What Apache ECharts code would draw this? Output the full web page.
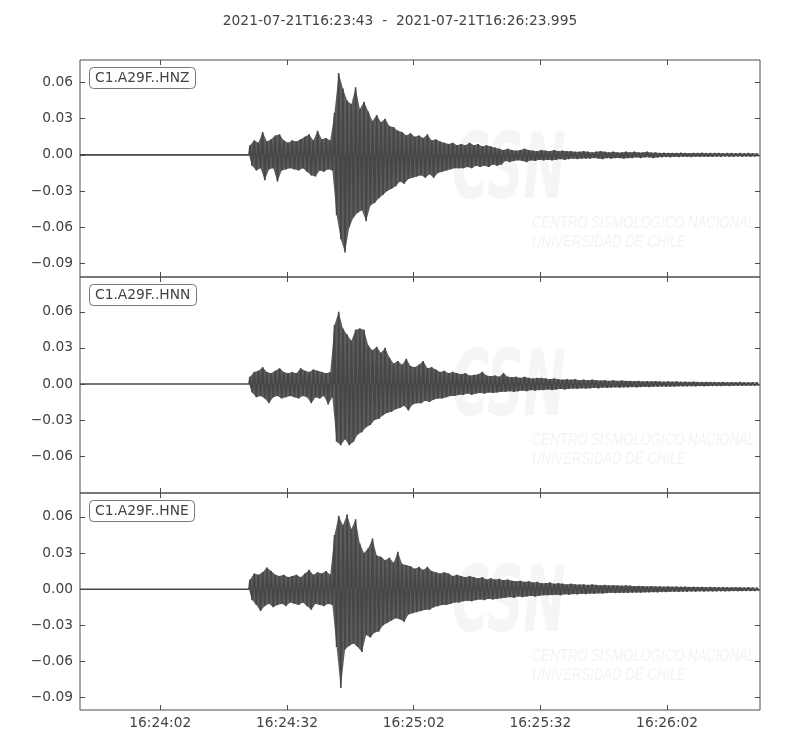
<!DOCTYPE html>
<html>
<head>
<meta charset="utf-8">
<title>C1.A29F</title>
<script src="https://cdn.jsdelivr.net/npm/echarts@6/dist/echarts.min.js"></script>
<style>
    html, body { margin: 0; padding: 0; background: #fff; }
    #main { width: 800px; height: 750px; }
</style>
</head>
<body>
<div id="main"></div>
<script>
    // trace window and envelope bins (seconds after 16:23:43)
    var titleText = '2021-07-21T16:23:43  -  2021-07-21T16:26:23.995';
    var duration = 160.995;
    var onset = 40;        // first bin with signal, flat before that
    var binWidth = 1;

    var channels = ['C1.A29F..HNZ', 'C1.A29F..HNN', 'C1.A29F..HNE'];

    var xTickSeconds = [19, 49, 79, 109, 139];
    var xTickLabels = ['16:24:02', '16:24:32', '16:25:02', '16:25:32', '16:26:02'];

    var yTicksZ = [-0.09, -0.06, -0.03, 0, 0.03, 0.06];
    var yTicksN = [-0.06, -0.03, 0, 0.03, 0.06];
    var yTicksE = [-0.09, -0.06, -0.03, 0, 0.03, 0.06];

    // per second upper / lower peaks, from t = 40 s
    var hnzMax = [
        0.008, 0.012, 0.010, 0.019, 0.011, 0.013, 0.016, 0.017, 0.012, 0.010,
        0.012, 0.011, 0.013, 0.015, 0.017, 0.012, 0.020, 0.013, 0.014, 0.012,
        0.035, 0.068, 0.055, 0.045, 0.042, 0.056, 0.038, 0.044, 0.036, 0.028,
        0.033, 0.027, 0.030, 0.024, 0.023, 0.020, 0.019, 0.016, 0.018, 0.015,
        0.016, 0.014, 0.017, 0.012, 0.013, 0.011, 0.010, 0.009, 0.010, 0.008,
        0.009, 0.008, 0.010, 0.008, 0.009, 0.007, 0.008, 0.007, 0.006, 0.005,
        0.004, 0.005, 0.004, 0.0035, 0.004, 0.005, 0.004, 0.0035, 0.003, 0.004,
        0.0035, 0.003, 0.004, 0.003, 0.0035, 0.003, 0.003, 0.0025, 0.0025, 0.003,
        0.0025, 0.002, 0.0025, 0.003, 0.0025, 0.002, 0.0025, 0.002, 0.002, 0.0025,
        0.002, 0.0025, 0.002, 0.002, 0.0025, 0.0018, 0.002, 0.0015, 0.0016, 0.0015,
        0.0015, 0.0014, 0.0016, 0.0015, 0.0013, 0.0015, 0.0014, 0.0016, 0.0013, 0.0014,
        0.0013, 0.0015, 0.0012, 0.0014, 0.0013, 0.0012, 0.0014, 0.0012, 0.0013, 0.0012, 0.0012
    ];
    var hnzMin = [
        -0.009, -0.013, -0.011, -0.021, -0.012, -0.011, -0.022, -0.013, -0.012, -0.011,
        -0.012, -0.013, -0.011, -0.014, -0.017, -0.018, -0.013, -0.014, -0.012, -0.013,
        -0.050, -0.070, -0.081, -0.060, -0.052, -0.048, -0.046, -0.055, -0.042, -0.040,
        -0.036, -0.033, -0.030, -0.028, -0.026, -0.022, -0.024, -0.020, -0.019, -0.018,
        -0.017, -0.019, -0.016, -0.019, -0.015, -0.014, -0.013, -0.012, -0.011, -0.011,
        -0.011, -0.010, -0.011, -0.009, -0.010, -0.009, -0.010, -0.008, -0.009, -0.008,
        -0.005, -0.006, -0.005, -0.0045, -0.005, -0.006, -0.0045, -0.005, -0.004, -0.0045,
        -0.004, -0.0045, -0.004, -0.0035, -0.004, -0.0035, -0.003, -0.0035, -0.003, -0.003,
        -0.003, -0.0025, -0.003, -0.0035, -0.0025, -0.003, -0.0025, -0.0025, -0.003, -0.0025,
        -0.0025, -0.002, -0.0025, -0.002, -0.002, -0.0025, -0.002, -0.0018, -0.0016, -0.0018,
        -0.0015, -0.0016, -0.0014, -0.0015, -0.0016, -0.0014, -0.0015, -0.0013, -0.0015, -0.0014,
        -0.0013, -0.0014, -0.0012, -0.0013, -0.0014, -0.0012, -0.0013, -0.0012, -0.0013, -0.0012, -0.0012
    ];

    var hnnMax = [
        0.006, 0.010, 0.011, 0.014, 0.010, 0.009, 0.011, 0.013, 0.010, 0.009,
        0.010, 0.009, 0.013, 0.011, 0.010, 0.012, 0.011, 0.010, 0.009, 0.010,
        0.049, 0.060, 0.046, 0.041, 0.036, 0.045, 0.046, 0.045, 0.032, 0.028,
        0.031, 0.026, 0.030, 0.022, 0.017, 0.019, 0.016, 0.021, 0.015, 0.014,
        0.016, 0.019, 0.013, 0.014, 0.012, 0.010, 0.011, 0.009, 0.010, 0.009,
        0.008, 0.009, 0.007, 0.0075, 0.008, 0.010, 0.007, 0.0065, 0.007, 0.006,
        0.009, 0.006, 0.0055, 0.006, 0.005, 0.006, 0.005, 0.0045, 0.005, 0.005,
        0.0045, 0.004, 0.0045, 0.004, 0.0035, 0.004, 0.0035, 0.004, 0.003, 0.0035,
        0.003, 0.0035, 0.003, 0.0028, 0.003, 0.0025, 0.003, 0.0025, 0.0028, 0.0025,
        0.0025, 0.0022, 0.0025, 0.002, 0.0022, 0.002, 0.0022, 0.002, 0.0018, 0.002,
        0.0018, 0.002, 0.0017, 0.0018, 0.0016, 0.0018, 0.0016, 0.0015, 0.0016, 0.0015,
        0.0015, 0.0014, 0.0015, 0.0013, 0.0014, 0.0013, 0.0014, 0.0012, 0.0013, 0.0012, 0.0012
    ];
    var hnnMin = [
        -0.007, -0.011, -0.010, -0.012, -0.016, -0.011, -0.010, -0.012, -0.011, -0.010,
        -0.011, -0.012, -0.010, -0.011, -0.016, -0.011, -0.012, -0.010, -0.017, -0.011,
        -0.048, -0.051, -0.046, -0.051, -0.048, -0.042, -0.040, -0.036, -0.034, -0.030,
        -0.029, -0.026, -0.024, -0.023, -0.021, -0.020, -0.018, -0.022, -0.017, -0.016,
        -0.016, -0.014, -0.015, -0.013, -0.012, -0.012, -0.011, -0.010, -0.010, -0.009,
        -0.009, -0.008, -0.009, -0.008, -0.0075, -0.008, -0.007, -0.0075, -0.007, -0.0065,
        -0.0065, -0.006, -0.0065, -0.006, -0.0055, -0.006, -0.005, -0.0055, -0.005, -0.005,
        -0.0045, -0.005, -0.0045, -0.004, -0.0045, -0.004, -0.0038, -0.004, -0.0035, -0.0038,
        -0.0035, -0.0032, -0.0035, -0.003, -0.0032, -0.003, -0.0028, -0.003, -0.0027, -0.0028,
        -0.0025, -0.0027, -0.0025, -0.0023, -0.0025, -0.0022, -0.0022, -0.002, -0.0022, -0.002,
        -0.002, -0.0018, -0.0019, -0.0018, -0.0017, -0.0018, -0.0016, -0.0017, -0.0016, -0.0015,
        -0.0015, -0.0016, -0.0014, -0.0015, -0.0014, -0.0013, -0.0014, -0.0013, -0.0013, -0.0012, -0.0012
    ];

    var hneMax = [
        0.008, 0.013, 0.012, 0.014, 0.018, 0.015, 0.012, 0.011, 0.012, 0.010,
        0.011, 0.012, 0.010, 0.013, 0.016, 0.012, 0.014, 0.013, 0.015, 0.012,
        0.045, 0.061, 0.053, 0.062, 0.050, 0.058, 0.038, 0.030, 0.034, 0.042,
        0.028, 0.027, 0.024, 0.026, 0.022, 0.031, 0.021, 0.020, 0.019, 0.017,
        0.0185, 0.016, 0.0185, 0.015, 0.014, 0.013, 0.014, 0.013, 0.011, 0.012,
        0.011, 0.010, 0.011, 0.010, 0.009, 0.010, 0.008, 0.009, 0.008, 0.0085,
        0.0075, 0.008, 0.007, 0.0065, 0.007, 0.006, 0.0065, 0.0055, 0.006, 0.005,
        0.005, 0.0055, 0.0045, 0.005, 0.0045, 0.004, 0.0045, 0.004, 0.0038, 0.004,
        0.0035, 0.004, 0.0035, 0.0032, 0.0035, 0.003, 0.0032, 0.003, 0.0028, 0.003,
        0.0028, 0.0025, 0.0027, 0.0025, 0.0023, 0.0025, 0.0022, 0.0023, 0.002, 0.0022,
        0.002, 0.0021, 0.0019, 0.002, 0.0018, 0.0019, 0.0017, 0.0018, 0.0016, 0.0017,
        0.0016, 0.0015, 0.0016, 0.0015, 0.0014, 0.0015, 0.0014, 0.0013, 0.0014, 0.0013, 0.0013
    ];
    var hneMin = [
        -0.009, -0.013, -0.018, -0.014, -0.012, -0.015, -0.013, -0.012, -0.014, -0.011,
        -0.012, -0.013, -0.011, -0.014, -0.017, -0.012, -0.013, -0.014, -0.012, -0.013,
        -0.048, -0.082, -0.050, -0.047, -0.045, -0.048, -0.052, -0.038, -0.040, -0.036,
        -0.035, -0.030, -0.028, -0.026, -0.024, -0.025, -0.027, -0.021, -0.020, -0.019,
        -0.018, -0.017, -0.017, -0.015, -0.014, -0.013, -0.013, -0.012, -0.011, -0.011,
        -0.010, -0.0095, -0.010, -0.009, -0.0085, -0.009, -0.008, -0.0085, -0.008, -0.0075,
        -0.007, -0.0065, -0.007, -0.006, -0.0065, -0.006, -0.0055, -0.006, -0.0055, -0.005,
        -0.005, -0.0048, -0.0045, -0.005, -0.0042, -0.0045, -0.004, -0.0042, -0.0038, -0.004,
        -0.0036, -0.0038, -0.0034, -0.0035, -0.0032, -0.003, -0.0032, -0.003, -0.0029, -0.003,
        -0.0028, -0.0027, -0.0028, -0.0025, -0.0026, -0.0024, -0.0025, -0.0022, -0.0023, -0.0021,
        -0.002, -0.0021, -0.0019, -0.002, -0.0018, -0.0019, -0.0017, -0.0018, -0.0016, -0.0017,
        -0.0016, -0.0015, -0.0016, -0.0015, -0.0014, -0.0015, -0.0014, -0.0013, -0.0014, -0.0013, -0.0013
    ];

    var font = 'DejaVu Sans';
    var fontSize = 13.8;
    var ink = '#444444';
    var frame = '#4d4d4d';
    var lineColor = '#474747';

    // panel boxes and y limits
    var panels = [
        {top: 60,  height: 217, min: -0.1013, max: 0.0787, ticks: yTicksZ, hi: hnzMax, lo: hnzMin},
        {top: 277, height: 216, min: -0.0906, max: 0.0889, ticks: yTicksN, hi: hnnMax, lo: hnnMin},
        {top: 493, height: 217, min: -0.1002, max: 0.0798, ticks: yTicksE, hi: hneMax, lo: hneMin}
    ];

    // each bin: its upper peak then its lower peak
    function buildTrace(hi, lo) {
        var pts = [[0, 0], [onset, 0]];
        for (var i = 0; i < hi.length; i++) {
            var t0 = onset + i * binWidth;
            pts.push([t0 + 0.25 * binWidth, hi[i]]);
            pts.push([t0 + 0.75 * binWidth, lo[i]]);
        }
        return pts;
    }

    // one side of the envelope (same peaks, same times)
    function buildSide(vals, offset) {
        var pts = [[onset, 0]];
        for (var i = 0; i < vals.length; i++) {
            pts.push([onset + (i + offset) * binWidth, vals[i]]);
        }
        return pts;
    }

    function fmtY(v) {
        var s = Math.abs(v).toFixed(2);
        return (v < -1e-9 ? '\u2212' : '') + s;
    }

    function fmtX(v) {
        var k = xTickSeconds.indexOf(Math.round(v));
        return k >= 0 ? xTickLabels[k] : '';
    }

    var grid = [], xAxis = [], yAxis = [], series = [], title = [], graphic = [];

    title.push({
        text: titleText, left: 'center', top: 14, padding: 0,
        textStyle: {fontFamily: font, fontSize: fontSize, fontWeight: 'normal', color: ink}
    });

    panels.forEach(function (p, i) {
        grid.push({
            left: 80, width: 680, top: p.top, height: p.height,
            show: true, borderColor: frame, borderWidth: 1, backgroundColor: 'transparent'
        });
        ['bottom', 'top'].forEach(function (pos) {
            var isLabelled = (pos === 'bottom' && i === panels.length - 1);
            xAxis.push({
                type: 'value', gridIndex: i, position: pos,
                min: 0, max: duration,
                axisLine: {show: false, onZero: false},
                splitLine: {show: false},
                axisTick: {inside: true, length: 5, customValues: xTickSeconds,
                    lineStyle: {color: frame, width: 1}},
                axisLabel: {show: isLabelled, customValues: xTickSeconds, formatter: fmtX,
                    margin: 6, fontFamily: font, fontSize: fontSize, color: ink}
            });
        });
        ['left', 'right'].forEach(function (pos) {
            yAxis.push({
                type: 'value', gridIndex: i, position: pos,
                min: p.min, max: p.max,
                axisLine: {show: false, onZero: false},
                splitLine: {show: false},
                axisTick: {inside: true, length: 5, customValues: p.ticks,
                    lineStyle: {color: frame, width: 1}},
                axisLabel: {show: pos === 'left', customValues: p.ticks, formatter: fmtY,
                    margin: 7, fontFamily: font, fontSize: fontSize, color: ink}
            });
        });
        // envelope shading under the trace
        [[p.hi, 0.25], [p.lo, 0.75]].forEach(function (side) {
            series.push({
                type: 'line', name: channels[i] + ' env',
                xAxisIndex: i * 2, yAxisIndex: i * 2,
                data: buildSide(side[0], side[1]),
                showSymbol: false, symbol: 'none', sampling: false,
                lineStyle: {width: 0},
                areaStyle: {color: lineColor, opacity: 0.88},
                emphasis: {disabled: true}, silent: true, animation: false, z: 2
            });
        });
        series.push({
            type: 'line', name: channels[i],
            xAxisIndex: i * 2, yAxisIndex: i * 2,
            data: buildTrace(p.hi, p.lo),
            showSymbol: false, symbol: 'none', sampling: false,
            lineStyle: {color: lineColor, width: 1.6, join: 'bevel'},
            areaStyle: {color: lineColor, opacity: 1},
            emphasis: {disabled: true}, silent: true, animation: false, z: 3
        });
        title.push({
            text: channels[i], left: 89, top: p.top + 7,
            padding: [4, 6, 3, 6],
            borderColor: '#777777', borderWidth: 1, borderRadius: 4, backgroundColor: '#ffffff',
            textStyle: {fontFamily: font, fontSize: fontSize, fontWeight: 'normal', color: ink, lineHeight: 15}
        });
        // faint CSN watermark behind the trace
        graphic.push({
            type: 'text', x: 452, y: p.top + 70, scaleX: 0.56, z: 1, silent: true,
            style: {text: 'CSN', fill: '#f5f5f5', font: 'italic bold 90px "DejaVu Sans"', textVerticalAlign: 'top'}
        });
        graphic.push({
            type: 'text', x: 532, y: p.top + 154, scaleX: 0.82, z: 1, silent: true,
            style: {text: 'CENTRO SISMOLÓGICO NACIONAL\nUNIVERSIDAD DE CHILE', fill: '#f3f3f3',
                font: 'italic 16px "Liberation Sans"', lineHeight: 19, textVerticalAlign: 'top'}
        });
    });

    var myChart = echarts.init(document.getElementById('main'), null, {renderer: 'canvas'});
    myChart.setOption({
        backgroundColor: '#ffffff',
        animation: false,
        title: title,
        grid: grid,
        xAxis: xAxis,
        yAxis: yAxis,
        graphic: graphic,
        series: series
    });
</script>
</body>
</html>
